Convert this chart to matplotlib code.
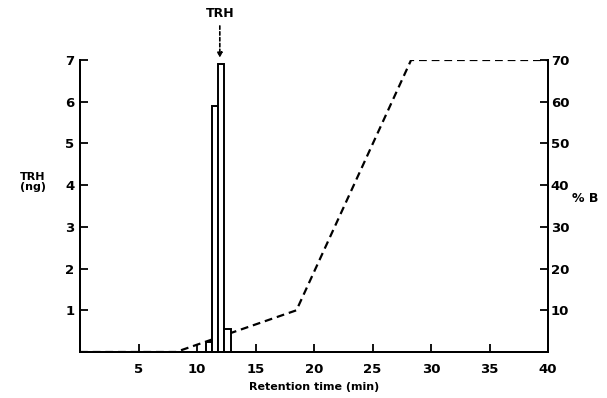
import matplotlib
matplotlib.use("Agg")
import matplotlib.pyplot as plt

# TRH fractions (ng) collected per fraction
frac_start = [10.8, 11.3, 11.8, 12.35]
frac_width = [0.5, 0.5, 0.55, 0.55]
trh_ng = [0.25, 5.9, 6.9, 0.55]

# Gradient profile (% B)
grad_time = [0, 8.2, 18.5, 28.3, 40]
grad_pct = [0, 0, 10, 70, 70]

x_ticks = [5, 10, 15, 20, 25, 30, 35, 40]
left_ticks = [1, 2, 3, 4, 5, 6, 7]
right_ticks = [10, 20, 30, 40, 50, 60, 70]

plt.rcParams["font.family"] = "DejaVu Sans"
plt.rcParams["font.weight"] = "bold"

fig = plt.figure(figsize=(6.07, 3.98), dpi=100)
ax = fig.add_axes([80 / 607, 1 - 352 / 398, 468 / 607, 292 / 398])
ax2 = ax.twinx()
ax.set_zorder(ax2.get_zorder() + 1)
ax.patch.set_visible(False)

# gradient on the right axis, hidden behind the bars
ax2.plot(grad_time, grad_pct, color="black", lw=1.6, ls=(0, (3.5, 2.2)))
ax2.set_ylim(0, 70)

ax.bar(frac_start, trh_ng, width=frac_width, align="edge",
       facecolor="white", edgecolor="black", linewidth=1.4)

ax.set_xlim(0, 40)
ax.set_ylim(0, 7)

for a in (ax, ax2):
    a.spines["top"].set_visible(False)
    for s in ("left", "right", "bottom"):
        a.spines[s].set_linewidth(1.4)

ax.set_xticks(x_ticks)
ax.set_yticks(left_ticks)
ax2.set_yticks(right_ticks)
ax.tick_params(axis="both", direction="in", length=6, width=1.3,
               labelsize=9.5, pad=4)
ax.tick_params(axis="x", pad=8)
ax2.tick_params(axis="y", direction="in", length=6, width=1.3,
                labelsize=9.5, pad=2)

ax.set_xlabel("Retention time (min)", fontsize=8, fontweight="bold", labelpad=4)
fig.text(20 / 607, 1 - 182 / 398, "TRH\n(ng)", fontsize=8, fontweight="bold",
         ha="left", va="center", linespacing=1.1)
fig.text(572 / 607, 1 - 198 / 398, "% B", fontsize=9, fontweight="bold",
         ha="left", va="center")

# TRH marker arrow
ax.annotate("TRH", xy=(11.95, 7.05), xytext=(11.95, 7.95),
            ha="center", va="bottom", fontsize=9, fontweight="bold",
            annotation_clip=False,
            arrowprops=dict(arrowstyle="-|>", color="black", lw=1.2,
                            ls=(0, (2, 1.5)), mutation_scale=7,
                            shrinkA=2, shrinkB=0))

fig.savefig("out.png", dpi=100)
